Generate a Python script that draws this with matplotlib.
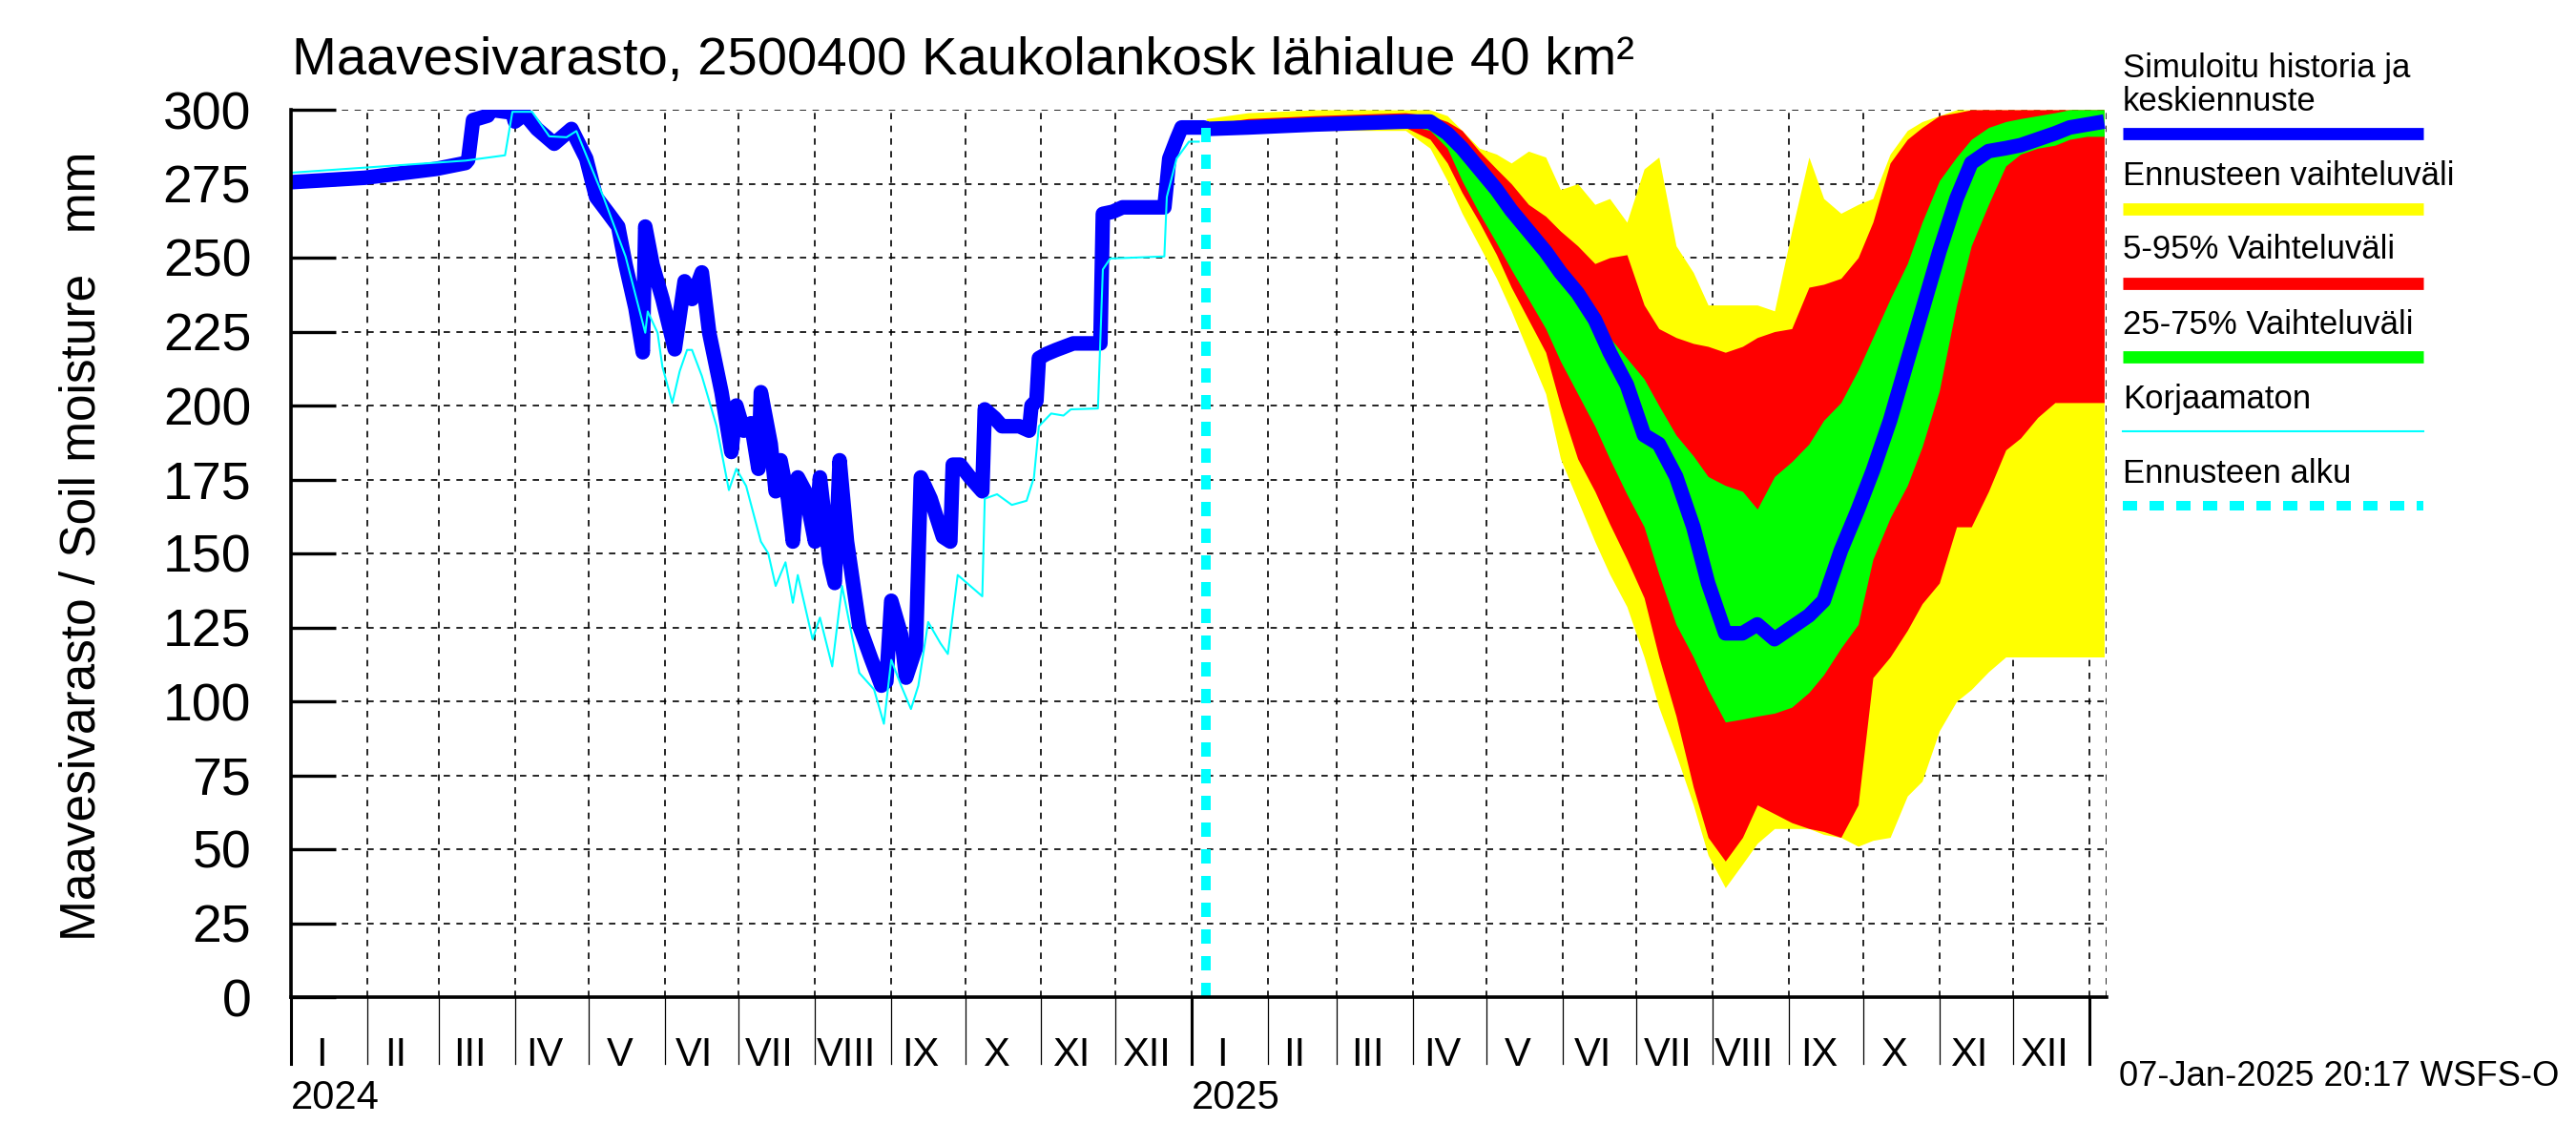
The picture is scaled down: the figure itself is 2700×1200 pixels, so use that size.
import numpy as np
import pandas as pd
import matplotlib
matplotlib.use("Agg")
import matplotlib.pyplot as plt
from matplotlib.lines import Line2D
from matplotlib import transforms
from matplotlib import font_manager as fm

names = {f.name for f in fm.fontManager.ttflist}
BASE = "Liberation Sans" if "Liberation Sans" in names else "DejaVu Sans"
NARROW = "Liberation Sans Narrow" if "Liberation Sans Narrow" in names else BASE
plt.rcParams["font.family"] = [BASE, "DejaVu Sans"]

# ---------------- data (days since 2024-01-01) ----------------
ORIGIN = "2024-01-01"
title = "Maavesivarasto, 2500400 Kaukolankosk lähialue 40 km²"
ylabel = "Maavesivarasto / Soil moisture   mm"
stamp = "07-Jan-2025 20:17 WSFS-O"
month_labels = ["I", "II", "III", "IV", "V", "VI", "VII", "VIII", "IX", "X", "XI", "XII"]
year_labels = ["2024", "2025"]
forecast_start_day = 372

hist_day = [0, 30, 59, 71, 72, 74, 80, 81, 90, 91, 95, 100, 107, 114, 120, 124, 129, 133, 136, 140,
            143, 144, 147, 151, 156, 160, 163, 167, 170, 175, 179, 181, 184, 187, 190, 191, 195, 197, 199, 202,
            204, 206, 209, 213, 215, 219, 221, 223, 226, 231, 236, 240, 242, 244, 248, 250, 254, 255, 256, 260,
            265, 268, 269, 272, 276, 281, 282, 286, 289, 296, 300, 301, 303, 304, 307, 311, 318, 329, 330, 334,
            338, 355, 357, 360, 362, 371]
hist_val = [275.5, 277, 280, 282, 283, 296.5, 298, 300, 299, 296, 298.5, 293.5, 288.5, 293.5, 283.5, 270.5, 265, 260.5, 247.6, 233,
            218, 260.5, 247.5, 236, 219, 242, 236, 245, 224.6, 204.5, 184.3, 200, 191.5, 194, 178.6, 204.5, 187, 171, 181.5, 168.5,
            154, 175.7, 171, 154, 175.7, 147, 140, 181.5, 154, 125.5, 114, 105.3, 106.7, 134, 122.5, 108, 118, 147, 175.7, 168.5,
            155.6, 154, 180, 180, 175.7, 171, 198.7, 195.8, 193, 193, 191.5, 200, 201.6, 216, 217.4, 218.8, 221, 221, 264.8, 265.5,
            267, 267, 283.5, 290, 294, 294]

raw_day = [0, 71, 87, 90, 98, 105, 112, 116, 127, 136, 144, 145, 149, 151, 155, 158, 161, 163, 167, 173,
           178, 181, 185, 191, 194, 197, 201, 204, 206, 212, 215, 220, 224, 231, 237, 241, 244, 248, 252, 255,
           259, 264, 267, 271, 281, 282, 287, 293, 299, 302, 304, 309, 314, 317, 328, 330, 333, 355, 356, 360,
           365, 369]
raw_val = [278.7, 282.8, 284.6, 299.3, 299.3, 291, 290.7, 292.8, 270.5, 250.4, 224.6, 231.8, 224.6, 213, 200.9, 211.6, 218.8, 218.8, 210, 193,
           171.4, 178.6, 172.8, 154, 150, 139, 147, 133.3, 142.7, 121, 128.3, 111.8, 139, 109.6, 104, 92.4, 114, 105.3, 97.4, 105.3,
           126.8, 119.6, 116, 142.7, 135.5, 168.5, 170, 166.4, 167.8, 175.7, 193, 197.3, 196.6, 198.7, 199, 246, 249.7, 250.4, 270.5, 283.5,
           289.2, 289.2]

fc_day = [372, 389, 416, 453, 463, 470, 476, 483, 490, 496, 503, 510, 516, 523, 530, 536, 543, 550, 556, 563,
          570, 576, 583, 590, 596, 603, 610, 617, 623, 630, 637, 643, 650, 657, 663, 670, 677, 683, 690, 697,
          703, 710, 717, 723, 730, 737]
fc_max = [297, 299, 300, 300, 300, 298, 293, 287, 285, 282, 286, 284, 273, 275, 268, 270, 262, 280, 284, 254,
          245, 234, 234, 234, 234, 232, 259, 284, 270, 265, 268, 270, 285, 293, 296, 298, 300, 300, 300, 300,
          300, 300, 300, 300, 300, 300]
fc_p95 = [295, 297, 298, 299, 298, 296, 293, 286, 280, 275, 268, 264, 259, 254, 248, 250, 251, 234, 226, 223,
          221, 220, 218, 220, 223, 225, 226, 240, 241, 243, 250, 262, 282, 290, 294, 298, 299, 300, 300, 300,
          300, 300, 300, 300, 300, 300]
fc_p75 = [294, 295, 296, 297, 296, 293, 286, 277, 271, 265, 258, 251, 244, 237, 230, 223, 216, 209, 200, 190,
          183, 176, 173, 171, 165, 176, 181, 187, 195, 201, 212, 223, 236, 248, 262, 276, 284, 290, 294, 296,
          297, 298, 299, 300, 300, 300]
fc_med = [293.5, 294, 295, 296, 296, 292, 287, 280, 273, 266, 259, 252, 245, 238, 229, 218, 207, 190, 187, 176,
          159, 140, 123, 123, 126, 121, 125, 129, 134, 151, 165, 178, 195, 215, 232, 252, 270, 282, 286, 287,
          288, 290, 292, 294, 295, 296]
fc_p25 = [293, 293.5, 294, 295, 293, 287, 276, 265, 255, 246, 236, 226, 215, 204, 193, 182, 170, 159, 143, 126,
          115, 104, 93, 94, 95, 96, 98, 103, 109, 118, 126, 148, 162, 173, 186, 205, 234, 254, 268, 281,
          285, 287, 288, 290, 291, 291]
fc_p5 = [292.5, 293, 293.5, 294, 290, 282, 272, 262, 251, 240, 229, 218, 200, 182, 171, 160, 148, 135, 115, 95,
         71, 54, 46, 54, 65, 62, 59, 57, 56, 54, 65, 108, 115, 124, 133, 140, 159, 159, 171, 185,
         189, 196, 201, 201, 201, 201]
fc_min = [292, 292.5, 293, 293, 287, 276, 265, 254, 243, 232, 218, 204, 182, 168, 154, 143, 132, 115, 98, 82,
          65, 48, 37, 45, 52, 57, 57, 57, 55, 54, 51, 53, 54, 68, 73, 90, 100, 104, 110, 115,
          115, 115, 115, 115, 115, 115]

legend_labels = ["Simuloitu historia ja\nkeskiennuste", "Ennusteen vaihteluväli", "5-95% Vaihteluväli",
                 "25-75% Vaihteluväli", "Korjaamaton", "Ennusteen alku"]

# ---------------- style ----------------
BLUE, YELLOW, RED, GREEN, CYAN = "#0000FF", "#FFFF00", "#FF0000", "#00FF00", "#00FFFF"
W, H = 2700, 1200
def fx(px): return px / W
def fy(py): return 1 - py / H

fig = plt.figure(figsize=(27, 12), dpi=100)
ax = fig.add_axes([fx(305), fy(1045), (2208 - 305) / W, (1045 - 115) / H])
XMAX = 738
ax.set_xlim(0, XMAX)
ax.set_ylim(0, 300)

origin = pd.Timestamp(ORIGIN)
mstarts = pd.date_range("2024-01-01", "2026-01-01", freq="MS")
ms = [(m - origin).days for m in mstarts]
year_starts = [(pd.Timestamp(y) - origin).days for y in ["2024-01-01", "2025-01-01", "2026-01-01"]]

grid_kw = dict(color="black", lw=1.2, ls=(0, (4, 4)), zorder=0.5)
for m in ms[1:]:
    ax.axvline(m, **grid_kw)
ax.axvline(XMAX, **grid_kw)
for yv in range(25, 301, 25):
    ax.axhline(yv, **grid_kw)

# bands
ax.fill_between(fc_day, fc_min, fc_max, color=YELLOW, lw=0, zorder=2)
ax.fill_between(fc_day, fc_p5, fc_p95, color=RED, lw=0, zorder=2.1)
ax.fill_between(fc_day, fc_p25, fc_p75, color=GREEN, lw=0, zorder=2.2)

ax.plot(hist_day + fc_day, hist_val + fc_med, color=BLUE, lw=11, zorder=3, solid_capstyle="butt")
ax.plot(raw_day, raw_val, color=CYAN, lw=1.5, zorder=4)
ax.plot([forecast_start_day, forecast_start_day], [0, 296], color=CYAN, lw=7.2,
        ls=(0, (1.5, 1.3)), zorder=5, dash_capstyle="butt")

# spines / ticks
for s in ["top", "right"]:
    ax.spines[s].set_visible(False)
for s in ["left", "bottom"]:
    ax.spines[s].set_linewidth(2.6)
    ax.spines[s].set_zorder(6)
ax.set_yticks(range(0, 301, 25))
ax.tick_params(axis="y", direction="in", length=34, width=2.4, labelsize=40, pad=30)
ax.set_xticks([])

trans = transforms.blended_transform_factory(ax.transData, ax.transAxes)
tick_len = 70 / 930
for m in ms:
    thick = m in year_starts
    ax.plot([m, m], [0, -tick_len], transform=trans, color="black",
            lw=2.2 if thick else 0.9, clip_on=False, zorder=6)
for i in range(len(ms) - 1):
    mid = (ms[i] + ms[i + 1]) / 2 - 3
    ax.text(mid, -61 / 930, month_labels[i % 12], transform=trans, ha="center", va="center",
            fontsize=30, family=[NARROW, "DejaVu Sans"])
for k, yl in enumerate(year_labels):
    ax.text(ms[12 * k], -106 / 930, yl, transform=trans, ha="left", va="center",
            fontsize=30, family=[NARROW, "DejaVu Sans"])

# texts
fig.text(fx(306), fy(64), title, fontsize=40.5, va="center", ha="left")
fig.text(fx(86), fy(572), ylabel, fontsize=37, rotation=90, va="center", ha="center")
fig.text(fx(2682), fy(1128), stamp, fontsize=26.2, va="center", ha="right", family=[NARROW, "DejaVu Sans"])

# legend
lx0, lx1 = fx(2225), fx(2540)
fig.text(lx0, fy(72), "Simuloitu historia ja", fontsize=25, va="center")
fig.text(lx0, fy(107), "keskiennuste", fontsize=25, va="center")
rows = [(legend_labels[1], 184, 219, YELLOW), (legend_labels[2], 262, 297, RED),
        (legend_labels[3], 340, 374, GREEN), (legend_labels[4], 418, 452, CYAN),
        (legend_labels[5], 496, 530, CYAN)]
fig.add_artist(Line2D([lx0, lx1], [fy(140)] * 2, color=BLUE, lw=9.2, solid_capstyle="butt"))
for k, (lab, ty, ly, col) in enumerate(rows):
    fig.text(lx0, fy(ty), lab, fontsize=25, va="center")
    if k < 3:
        fig.add_artist(Line2D([lx0, lx1], [fy(ly)] * 2, color=col, lw=9.2, solid_capstyle="butt"))
    elif k == 3:
        fig.add_artist(Line2D([lx0, lx1], [fy(ly)] * 2, color=col, lw=1.5))
    else:
        fig.add_artist(Line2D([lx0, lx1], [fy(ly)] * 2, color=col, lw=7.2, ls=(0, (1.5, 1.3)),
                              dash_capstyle="butt"))

fig.savefig("out.png", dpi=100)
